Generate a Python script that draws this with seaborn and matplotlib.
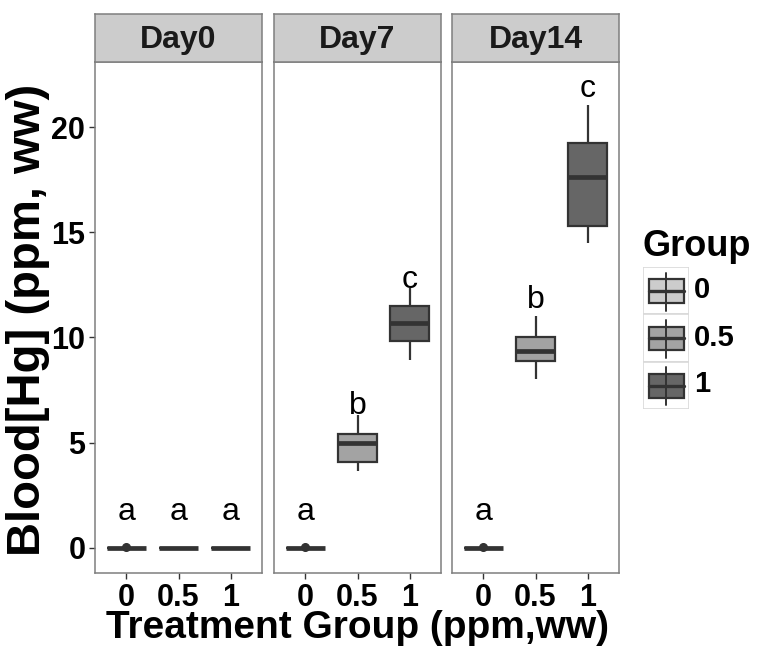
"""
Blood [Hg] by treatment group, faceted by sampling day (ggplot-like boxplots).
"""

import matplotlib
matplotlib.use("Agg")
import matplotlib.pyplot as plt
from matplotlib.patches import Rectangle
import pandas as pd
import seaborn as sns

# ── Data ──────────────────────────────────────────────────────────────────────
DAYS = ["Day0", "Day7", "Day14"]
GROUPS = ["0", "0.5", "1"]
GROUP_COLORS = ["#CCCCCC", "#A3A3A3", "#666666"]

# five-number samples: [low whisker, Q1, median, Q3, high whisker]
day0_g0 = [0.0, 0.0, 0.0, 0.0, 0.04]
day0_g05 = [0.0, 0.0, 0.0, 0.0, 0.0]
day0_g1 = [0.0, 0.0, 0.0, 0.0, 0.0]
day7_g0 = [0.0, 0.0, 0.0, 0.0, 0.04]
day7_g05 = [3.67, 4.10, 4.99, 5.40, 6.32]
day7_g1 = [8.93, 9.83, 10.70, 11.50, 12.35]
day14_g0 = [0.0, 0.0, 0.0, 0.0, 0.04]
day14_g05 = [8.03, 8.90, 9.36, 10.00, 11.02]
day14_g1 = [14.47, 15.30, 17.61, 19.23, 21.05]

SAMPLES = {
    "Day0": [day0_g0, day0_g05, day0_g1],
    "Day7": [day7_g0, day7_g05, day7_g1],
    "Day14": [day14_g0, day14_g05, day14_g1],
}

# significance letters and the value where each one sits (baseline)
LETTERS = {
    "Day0": ["a", "a", "a"],
    "Day7": ["a", "b", "c"],
    "Day14": ["a", "b", "c"],
}
LETTER_Y = {
    "Day0": [1.33, 1.33, 1.33],
    "Day7": [1.33, 6.35, 12.37],
    "Day14": [1.33, 11.39, 21.44],
}

Y_TICKS = [0, 5, 10, 15, 20]

rows = []
for day in DAYS:
    for grp, vals in zip(GROUPS, SAMPLES[day]):
        for v in vals:
            rows.append({"day": day, "group": grp, "value": v})
df = pd.DataFrame(rows)

# ── Style ─────────────────────────────────────────────────────────────────────
sns.set_theme(style="white")
plt.rcParams["font.family"] = ["Liberation Sans", "DejaVu Sans"]
plt.rcParams["text.color"] = "black"
plt.rcParams["xtick.labelcolor"] = "black"
plt.rcParams["ytick.labelcolor"] = "black"

W, H = 763, 653
fig = plt.figure(figsize=(W / 100, H / 100), dpi=100)
fig.patch.set_facecolor("white")

EDGE = "#333333"
BORDER = "#7F7F7F"


def px_rect(x0, y0, x1, y1):
    """Pixel box (top-left origin) -> figure fraction rect."""
    return [x0 / W, 1 - y1 / H, (x1 - x0) / W, (y1 - y0) / H]


panel_x = [(95, 262), (274, 441), (452, 619)]
PANEL_TOP, PANEL_BOTTOM, STRIP_TOP = 62, 573, 14

for i, (day, (x0, x1)) in enumerate(zip(DAYS, panel_x)):
    ax = fig.add_axes(px_rect(x0, PANEL_TOP, x1, PANEL_BOTTOM))
    sns.boxplot(
        data=df[df["day"] == day], x="group", y="value", hue="group",
        order=GROUPS, hue_order=GROUPS, palette=GROUP_COLORS,
        saturation=1, width=0.75, linecolor=EDGE, linewidth=1.6,
        showcaps=False, legend=False, ax=ax,
        medianprops=dict(color=EDGE, linewidth=3.4),
        flierprops=dict(marker="o", markersize=5.5, markerfacecolor=EDGE,
                        markeredgecolor=EDGE),
    )
    for j, (lab, ly) in enumerate(zip(LETTERS[day], LETTER_Y[day])):
        ax.text(j, ly, lab, ha="center", va="baseline", fontsize=23,
                color="black")

    ax.set_xlim(-0.6, 2.6)
    ax.set_ylim(-1.19, 23.09)
    ax.set_xlabel("")
    ax.set_ylabel("")
    ax.set_yticks(Y_TICKS)
    ax.set_facecolor("white")
    for s in ax.spines.values():
        s.set_color(BORDER)
        s.set_linewidth(1.1)
    ax.tick_params(axis="both", which="both", length=4, width=1,
                   color=EDGE, labelsize=22, pad=3)
    ax.tick_params(axis="x", bottom=True)
    for t in ax.get_xticklabels():
        t.set_fontweight("bold")
    if i == 0:
        ax.tick_params(axis="y", left=True)
        for t in ax.get_yticklabels():
            t.set_fontweight("bold")
    else:
        ax.tick_params(axis="y", left=False, labelleft=False)

    # facet strip
    sax = fig.add_axes(px_rect(x0, STRIP_TOP, x1, PANEL_TOP))
    sax.set_facecolor("#CCCCCC")
    sax.set_xticks([])
    sax.set_yticks([])
    for s in sax.spines.values():
        s.set_color(BORDER)
        s.set_linewidth(1.1)
    sax.text(0.5, 0.45, day, ha="center", va="center", fontsize=23,
             fontweight="bold", color="#1A1A1A", transform=sax.transAxes)

# axis titles
fig.text(357 / W, 1 - 628 / H, "Treatment Group (ppm,ww)", ha="center",
         va="center", fontsize=28, fontweight="bold")
fig.text(28 / W, 1 - 320 / H, "Blood[Hg] (ppm, ww)", ha="center",
         va="center", rotation=90, fontsize=34, fontweight="bold")

# legend (drawn as ggplot-style key glyphs)
fig.text(643 / W, 1 - 256 / H, "Group", ha="left", va="baseline",
         fontsize=26, fontweight="bold")
lax = fig.add_axes(px_rect(643, 267, 689, 409))
lax.set_xlim(0, 1)
lax.set_ylim(3, 0)
lax.axis("off")
for k, (grp, col) in enumerate(zip(GROUPS, GROUP_COLORS)):
    lax.add_patch(Rectangle((0, k), 1, 1, facecolor="white",
                            edgecolor="#D9D9D9", linewidth=1.2))
    lax.plot([0.5, 0.5], [k + 0.12, k + 0.92], color=EDGE, linewidth=1.4)
    lax.add_patch(Rectangle((0.13, k + 0.26), 0.76, 0.5, facecolor=col,
                            edgecolor=EDGE, linewidth=1.6))
    lax.plot([0.13, 0.89], [k + 0.51, k + 0.51], color=EDGE, linewidth=2.4)
    fig.text(694 / W, 1 - (267 + 47 * k + 23.5) / H, grp, ha="left",
             va="center", fontsize=21, fontweight="bold")

fig.savefig("out.png", dpi=100, facecolor="white")
